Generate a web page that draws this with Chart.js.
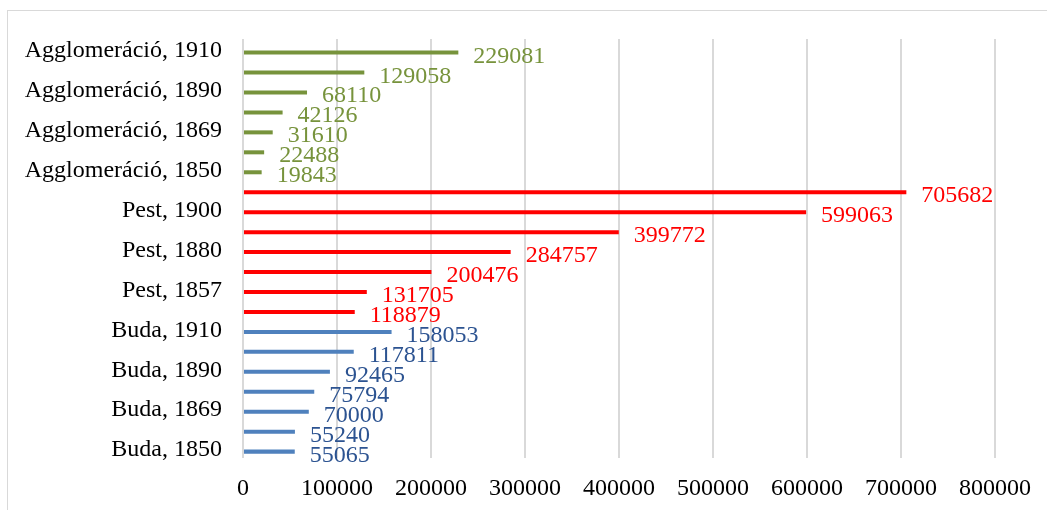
<!DOCTYPE html>
<html>
<head>
<meta charset="utf-8">
<script src="https://cdn.jsdelivr.net/npm/chart.js@4"></script>
<style>
  html, body { margin: 0; padding: 0; background: #ffffff; }
  #wrap { position: absolute; left: 0; top: 0; width: 1047px; height: 510px; }
</style>
</head>
<body>
<div id="wrap"><canvas id="c" width="1047" height="510"></canvas></div>
<script>
// ---- data (top row of the chart first) ----
const years = [1910, 1900, 1890, 1880, 1869, 1857, 1850];
const aggloValues = [229081, 129058, 68110, 42126, 31610, 22488, 19843];
const pestValues  = [705682, 599063, 399772, 284757, 200476, 131705, 118879];
const budaValues  = [158053, 117811, 92465, 75794, 70000, 55240, 55065];
const groupNames  = ['Agglomeráció', 'Pest', 'Buda'];
const xTicks = [0, 100000, 200000, 300000, 400000, 500000, 600000, 700000, 800000];

// ---- styles ----
const barColors   = { 'Agglomeráció': '#77933C', 'Pest': '#FF0000', 'Buda': '#4F81BD' };
const labelColors = { 'Agglomeráció': '#77933C', 'Pest': '#FF0000', 'Buda': '#2C5391' };
const FONT = 'Liberation Serif';

const groupValues = [aggloValues, pestValues, budaValues];
const categories = [];
const values = [];
const bColors = [];
const lColors = [];
groupNames.forEach((g, gi) => {
  years.forEach((y, yi) => {
    categories.push(g + ', ' + y);
    values.push(groupValues[gi][yi]);
    bColors.push(barColors[g]);
    lColors.push(labelColors[g]);
  });
});

const frame = {
  id: 'frame',
  beforeDraw(chart) {
    const ctx = chart.ctx;
    ctx.save();
    ctx.strokeStyle = '#d9d9d9';
    ctx.lineWidth = 1;
    ctx.strokeRect(7.5, 10.5, 3000, 3000);
    ctx.restore();
  }
};

const valueLabels = {
  id: 'valueLabels',
  afterDatasetsDraw(chart) {
    const ctx = chart.ctx;
    const meta = chart.getDatasetMeta(1);
    ctx.save();
    ctx.font = '24px "' + FONT + '"';
    ctx.textAlign = 'left';
    ctx.textBaseline = 'alphabetic';
    meta.data.forEach((bar, i) => {
      const v = chart.data.datasets[1].data[i];
      if (v == null) return;
      ctx.fillStyle = lColors[i];
      ctx.fillText(String(v), bar.x + 15, bar.y + 10);
    });
    ctx.restore();
  }
};

new Chart(document.getElementById('c'), {
  type: 'bar',
  data: {
    labels: categories,
    datasets: [
      { label: 'spacer', data: categories.map(() => null) },
      {
        label: 'Népesség',
        data: values,
        backgroundColor: bColors,
        borderWidth: 0,
        categoryPercentage: 0.72,
        barPercentage: 0.56
      }
    ]
  },
  options: {
    indexAxis: 'y',
    responsive: false,
    animation: false,
    datasets: { bar: { categoryPercentage: 0.72, barPercentage: 0.56 } },
    layout: { padding: { top: 39, right: 52, left: 0, bottom: 0 } },
    plugins: {
      legend: { display: false },
      tooltip: { enabled: false }
    },
    scales: {
      x: {
        min: 0,
        max: 800000,
        afterFit(s) { s.height = 52; },
        afterBuildTicks(s) { s.ticks = xTicks.map(v => ({ value: v })); },
        grid: { color: '#d9d9d9', lineWidth: 2, drawTicks: false },
        border: { display: false },
        ticks: {
          color: '#000000',
          padding: 16,
          font: { family: FONT, size: 24 },
          callback: v => String(v)
        }
      },
      y: {
        afterFit(s) { s.width = 243; },
        grid: { display: false, drawTicks: false },
        border: { display: false },
        ticks: {
          color: '#000000',
          padding: 21,
          labelOffset: 2,
          autoSkip: false,
          font: { family: FONT, size: 24 },
          callback(v, i) { return i % 2 === 0 ? this.getLabelForValue(v) : ''; }
        }
      }
    }
  },
  plugins: [frame, valueLabels]
});
</script>
</body>
</html>
